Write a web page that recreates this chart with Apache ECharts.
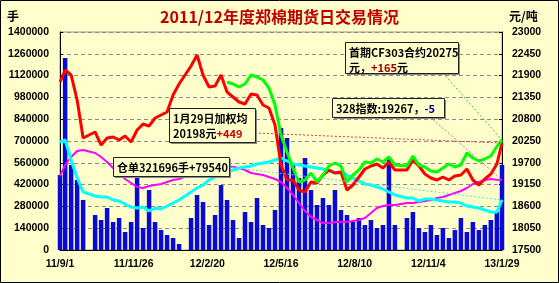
<!DOCTYPE html>
<html><head><meta charset="utf-8">
<script src="https://cdn.jsdelivr.net/npm/echarts@6/dist/echarts.min.js"></script>
<style>html,body{margin:0;padding:0;background:#ffffcc}#c{width:559px;height:283px}</style>
</head><body><div id="c"></div>
<script>
// ---- data (weekly readings, one per trading week) ----
const dates = ['2011-09-01','2011-09-07','2011-09-14','2011-09-21','2011-09-28','2011-10-12','2011-10-19','2011-10-26','2011-11-02','2011-11-09',
'2011-11-16','2011-11-23','2011-11-30','2011-12-07','2011-12-14','2011-12-21','2011-12-28','2012-01-04','2012-01-11','2012-01-18',
'2012-02-01','2012-02-08','2012-02-15','2012-02-22','2012-02-29','2012-03-07','2012-03-14','2012-03-21','2012-03-28','2012-04-04',
'2012-04-11','2012-04-18','2012-04-25','2012-05-02','2012-05-09','2012-05-16','2012-05-23','2012-05-30','2012-06-06','2012-06-13',
'2012-06-20','2012-06-27','2012-07-04','2012-07-11','2012-07-18','2012-07-25','2012-08-01','2012-08-08','2012-08-15','2012-08-22',
'2012-08-29','2012-09-05','2012-09-12','2012-09-19','2012-09-26','2012-10-10','2012-10-17','2012-10-24','2012-10-31','2012-11-07',
'2012-11-14','2012-11-21','2012-11-28','2012-12-05','2012-12-12','2012-12-19','2012-12-26','2013-01-02','2013-01-09','2013-01-16',
'2013-01-23','2013-01-29'];
const xTickLabels = ['11/9/1','11/11/26','12/2/20','12/5/16','12/8/10','12/11/4','13/1/29'];
const rightTickValues = [17500,18050,18600,19150,19700,20250,20800,21350,21900,22450,23000];

const volume = [481700,1233000,545900,449500,321100,224800,192700,269700,179800,205500,
115600,179800,500900,141300,385300,179800,128400,96300,77100,38500,
205500,353200,308300,160600,224800,417400,321100,192700,77100,244000,
179800,333900,160600,141300,256900,783500,719300,545900,462400,590800,
385300,289000,333900,289000,385300,256900,224800,179800,205500,160600,
192700,141300,160600,590800,160600,205500,244000,141300,115600,160600,
96300,141300,77100,128400,205500,115600,179800,128400,160600,192700,
244000,545900];
const weightedAvg = [21739,22041,21915,21285,20326,20477,20149,20326,20351,20275,
20376,20225,20528,20679,20629,20830,20906,20982,21411,21688,
22142,22420,21915,21612,21638,21915,21486,21360,21234,21184,
21436,21411,21158,21083,20654,19645,19266,19266,19014,18963,
19216,19190,19392,19518,19443,19468,19014,19140,19342,19544,
19619,19670,19569,19720,19518,19518,19771,19619,19417,19317,
19266,19342,19266,19367,19392,19544,19266,19140,19291,19417,
19670,20198];
const cf303 = [21739,21688,21612,21688,21915,21865,21789,21587,21158,20401,
19973,19569,19216,19266,19443,19216,19392,19619,19695,19619,
19216,19392,19518,19720,19695,19796,19720,19846,19645,19619,
19872,19645,19594,19493,19468,19569,19670,19594,19645,19947,
19821,19745,19796,19872,20110,20275];
const index328 = [19367,19645,19846,19998,20023,19947,19846,19720,19569,19443,
19291,19190,19089,19064,19115,19140,19165,19216,19266,19291,
19417,19468,19518,19569,19619,19645,19619,19594,19569,19518,
19443,19417,19392,19342,19291,19216,19064,18888,18686,18484,
18333,18257,18181,18181,18206,18206,18206,18232,18257,18307,
18434,18560,18610,18635,18635,18686,18686,18711,18736,18762,
18812,18837,18888,18938,18989,19064,19165,19216,19266,19291,
19272,19267];
const receipts = [693600,706400,578000,462400,372500,346800,340400,340400,321100,314700,
295400,276100,269700,276100,250500,269700,263300,282600,301800,321100,
372500,398200,417400,449500,468800,494500,500900,513800,526600,533000,
539400,552300,558700,565100,578000,590800,571600,552300,545900,539400,
533000,526600,520200,507300,494500,494500,481700,462400,443100,423900,
417400,404600,391700,372500,353200,333900,333900,314700,327500,327500,
321100,314700,308300,308300,301800,282600,276100,269700,256900,244000,
242156,321696];

// ---- build ----
const DAY0 = Date.UTC(2011, 8, 1);
const dayOf = s => { const p = s.split('-').map(Number); return (Date.UTC(p[0], p[1]-1, p[2]) - DAY0) / 86400000; };
const xs = dates.map(dayOf);
const pair = arr => { const off = xs.length - arr.length; return arr.map((v, i) => [xs[i + off], v]); };
const SPAN = xs[xs.length-1];
const STEP = SPAN / (xTickLabels.length - 1);

const lblFont = {color:'#000', fontWeight:'bold', fontSize:10.5, fontFamily:'Liberation Sans'};
const plain = v => String(Math.round(v));
const chart = echarts.init(document.getElementById('c'), null, {renderer:'canvas'});
chart.setOption({
  animation:false,
  backgroundColor:'#ffffcc',
  title:{text:'2011/12年度郑棉期货日交易情况', left:'center', top:4,
    textStyle:{color:'#c00000', fontSize:16, fontWeight:'bold', fontFamily:'Noto Sans CJK SC'}},
  grid:{left:60, right:57, top:32, bottom:33, show:true, borderColor:'#999', borderWidth:1, backgroundColor:'#ffffcc'},
  xAxis:{type:'value', min:0, max:SPAN, interval:STEP,
    axisLine:{show:true, onZero:false, lineStyle:{color:'#000', width:1}},
    axisTick:{show:false}, splitLine:{show:false},
    axisLabel:Object.assign({margin:9, formatter:v => xTickLabels[Math.round(v/STEP)] || ''}, lblFont)},
  yAxis:[
    {type:'value', min:0, max:1400000, interval:140000, position:'left',
      axisLine:{show:true, lineStyle:{color:'#000'}},
      axisTick:{show:true, inside:true, length:3, lineStyle:{color:'#000'}},
      splitLine:{show:true, lineStyle:{color:'#8c8c8c', type:[4,3]}},
      axisLabel:Object.assign({margin:11, formatter:plain}, lblFont)},
    {type:'value', min:17500, max:23000, interval:550, position:'right',
      axisLine:{show:true, lineStyle:{color:'#000'}},
      axisTick:{show:true, inside:true, length:3, lineStyle:{color:'#000'}, customValues:rightTickValues},
      splitLine:{show:false},
      axisLabel:Object.assign({margin:10, customValues:rightTickValues, formatter:plain}, lblFont)}
  ],
  series:[
    {name:'成交量', type:'bar', yAxisIndex:0, data:pair(volume), barWidth:4.5, itemStyle:{color:'#0a0ad8'}, z:1},
    {name:'328指数', type:'line', yAxisIndex:1, data:pair(index328), symbol:'none', lineStyle:{color:'#ff00ff', width:2}, z:3},
    {name:'仓单', type:'line', yAxisIndex:0, data:pair(receipts), symbol:'none', lineStyle:{color:'#00ffff', width:3}, z:4},
    {name:'加权均价', type:'line', yAxisIndex:1, data:pair(weightedAvg), symbol:'none', lineStyle:{color:'#ff0000', width:3}, z:5},
    {name:'CF303', type:'line', yAxisIndex:1, data:pair(cf303), symbol:'none', lineStyle:{color:'#00ff00', width:3}, z:6}
  ]
});

// ---- annotations ----
const last = xs.length - 1;
const endPx = (arr, yi) => chart.convertToPixel({xAxisIndex:0, yAxisIndex:yi}, [xs[last], arr[arr.length-1]]);
const F = {fontSize:11, fontWeight:'bold', fontFamily:'Noto Sans CJK SC'};
function box(x, y, w, h, text, rich){
  return {type:'group', children:[
    {type:'rect', shape:{x:x+2, y:y+2, width:w, height:h}, style:{fill:'#8a8a8a'}, z:200},
    {type:'rect', shape:{x:x+0.5, y:y+0.5, width:w, height:h}, style:{fill:'#ffffcc', stroke:'#222', lineWidth:1}, z:201},
    {type:'text', x:x+4, y:y+3, z:202, style:Object.assign({text, fill:'#000', lineHeight:15, verticalAlign:'top', rich}, F)}
  ]};
}
function leader(p0, p1, color){
  return {type:'line', shape:{x1:p0[0], y1:p0[1], x2:p1[0], y2:p1[1]}, z:150,
    style:{stroke:color, lineWidth:1, lineDash:[2,2]}};
}
const gEnd = endPx(cf303, 1), mEnd = endPx(index328, 1), rEnd = endPx(weightedAvg, 1), cEnd = endPx(receipts, 0);
chart.setOption({graphic:[
  {type:'text', left:7, top:10, style:{text:'手', fill:'#000', font:'bold 12px "Noto Sans CJK SC"'}},
  {type:'text', left:509, top:10, style:{text:'元/吨', fill:'#000', font:'bold 12px "Noto Sans CJK SC"'}},
  leader([443,73], gEnd, '#33cc33'),
  leader([430,117], mEnd, '#e0609a'),
  leader([255,133], rEnd, '#e04040'),
  leader([228,167], cEnd, '#55dddd'),
  box(345, 42, 113, 31, '首期CF303合约20275\n元，{r|+165}元', {r:Object.assign({fill:'#a00000'}, F)}),
  box(332, 98, 112, 19, '328指数:19267，{b|-5}', {b:Object.assign({fill:'#000099'}, F)}),
  box(169, 108, 86, 34, '1月29日加权均\n20198元{r|+449}', {r:Object.assign({fill:'#cc0000'}, F)}),
  box(113, 157, 116, 19, '仓单321696手+79540', {}),
  {type:'rect', shape:{x:0.5, y:0.5, width:558, height:282}, style:{fill:'none', stroke:'#000', lineWidth:1}, z:300}
]}, {replaceMerge:['graphic']});
</script></body></html>
